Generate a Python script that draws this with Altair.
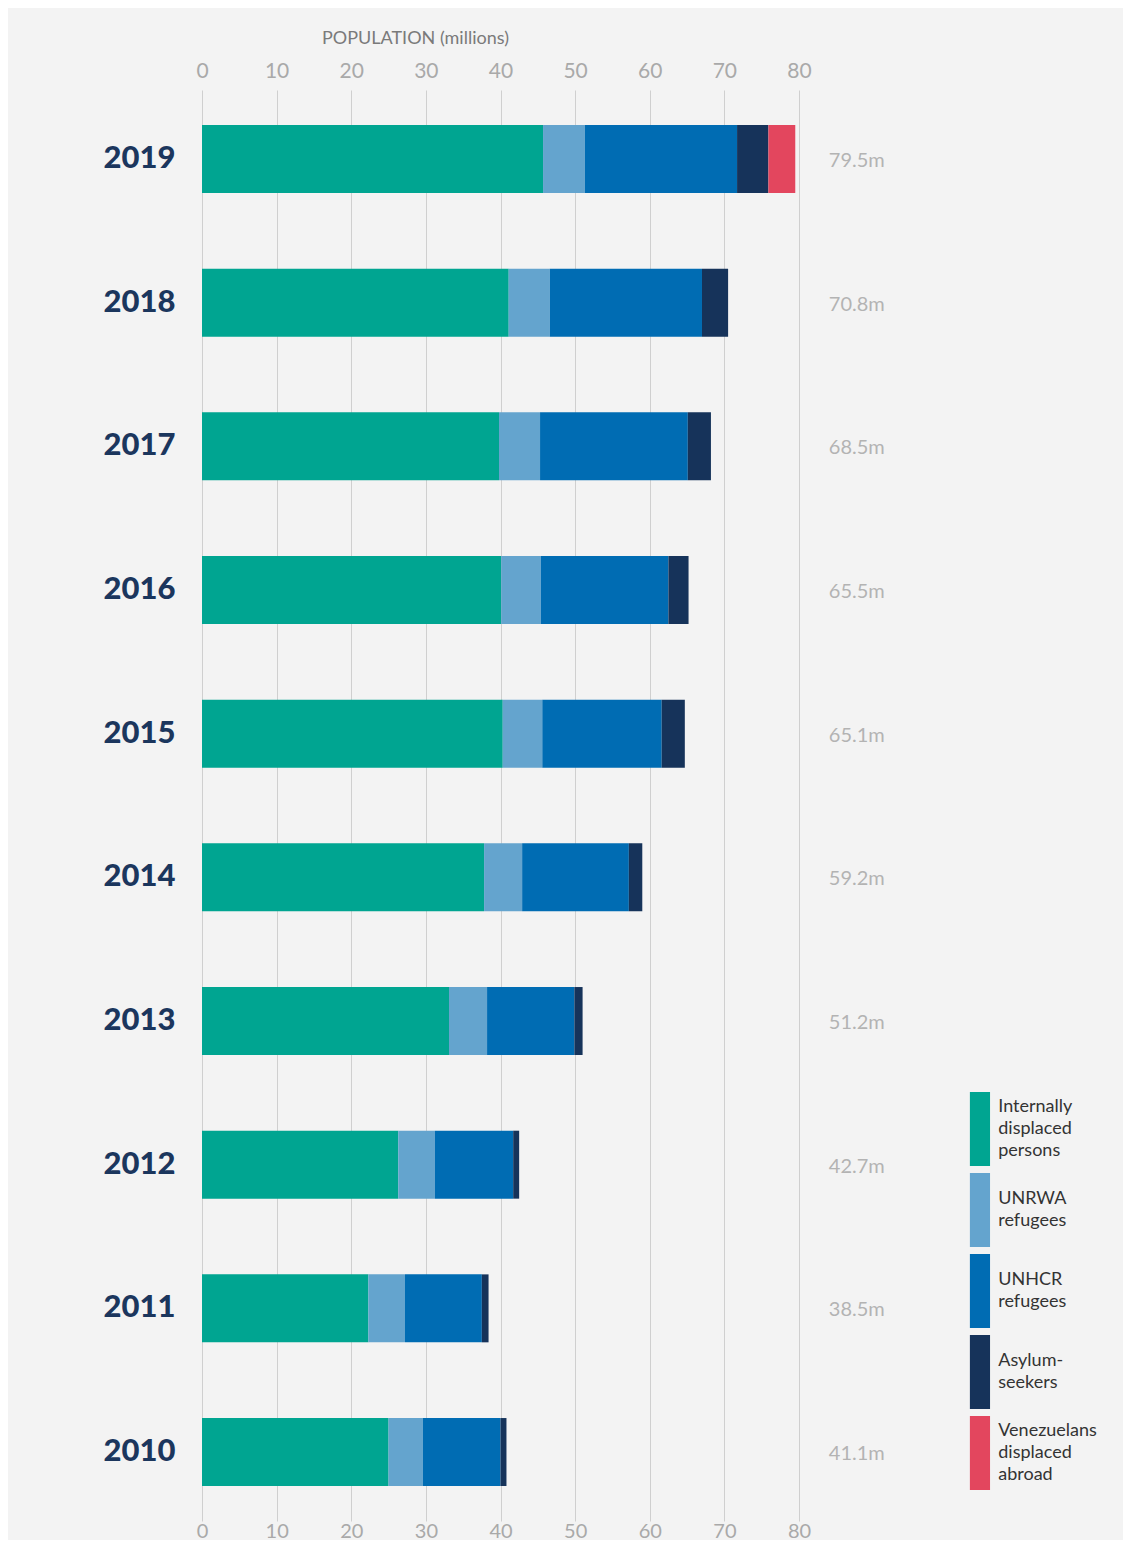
import altair as alt
import pandas as pd

years = ["2019", "2018", "2017", "2016", "2015", "2014", "2013", "2012", "2011", "2010"]
idp = [45.7, 41.1, 39.8, 40.1, 40.3, 37.8, 33.1, 26.3, 22.3, 25.0]
unrwa = [5.6, 5.5, 5.5, 5.3, 5.3, 5.1, 5.1, 4.9, 4.9, 4.6]
unhcr = [20.4, 20.4, 19.8, 17.1, 16.0, 14.3, 11.7, 10.5, 10.3, 10.4]
asylum = [4.2, 3.5, 3.1, 2.7, 3.1, 1.8, 1.1, 0.8, 0.9, 0.8]
venezuelans = [3.6, 0, 0, 0, 0, 0, 0, 0, 0, 0]
total_labels = ["79.5m", "70.8m", "68.5m", "65.5m", "65.1m", "59.2m", "51.2m", "42.7m", "38.5m", "41.1m"]

categories = [
    "Internally displaced persons",
    "UNRWA refugees",
    "UNHCR refugees",
    "Asylum-seekers",
    "Venezuelans displaced abroad",
]
legend_lines = [
    ["Internally", "displaced", "persons"],
    ["UNRWA", "refugees"],
    ["UNHCR", "refugees"],
    ["Asylum-", "seekers"],
    ["Venezuelans", "displaced", "abroad"],
]
colors = ["#00a591", "#64a4ce", "#006cb3", "#16335a", "#e3465e"]
x_ticks = [0, 10, 20, 30, 40, 50, 60, 70, 80]
axis_title = "POPULATION (millions)"

series = [idp, unrwa, unhcr, asylum, venezuelans]
rows = []
for i, yr in enumerate(years):
    for k, (cat, vals) in enumerate(zip(categories, series)):
        rows.append({"year": yr, "category": cat, "value": vals[i], "k": k})
df = pd.DataFrame(rows)
tot = pd.DataFrame({"year": years, "label": total_labels})
leg = pd.DataFrame({
    "category": categories,
    "lines": legend_lines,
    "n": [len(l) for l in legend_lines],
})

FONT = "Lato"
xscale = alt.Scale(domain=[0, 80], nice=False, zero=True)
yscale = alt.Scale(paddingInner=0.527, paddingOuter=0.2436)
color_scale = alt.Scale(domain=categories, range=colors)
legend_yscale = alt.Scale(domain=categories, range=[1002, 1400], paddingInner=0.0864, paddingOuter=0)

bars = alt.Chart(df).mark_bar().encode(
    x=alt.X(
        "value:Q",
        stack="zero",
        scale=xscale,
        title=None,
        axis=alt.Axis(
            orient="bottom", values=x_ticks, grid=True, gridColor="#cfcfcf", gridWidth=1,
            domain=False, ticks=False, tickSize=0, labelPadding=0, labelFlush=False,
            labelFont=FONT, labelFontSize=20, labelColor="#a9a9a9", title=None,
        ),
    ),
    y=alt.Y(
        "year:N",
        sort=years,
        scale=yscale,
        title=None,
        axis=alt.Axis(
            domain=False, ticks=False, tickSize=0, labelPadding=27,
            labelFont=FONT, labelFontSize=31, labelFontWeight=900, labelColor="#1b365d",
        ),
    ),
    color=alt.Color("category:N", scale=color_scale, legend=None),
    order=alt.Order("k:Q"),
)

totals = alt.Chart(tot).mark_text(
    align="left", baseline="middle", font=FONT, fontSize=20, color="#b3b3b3", dy=2
).encode(
    x=alt.X(
        datum=84,
        scale=xscale,
        axis=alt.Axis(
            orient="top", values=x_ticks, grid=False, domain=False, ticks=False, tickSize=0,
            labelPadding=9, labelFlush=False, labelFont=FONT, labelFontSize=21,
            labelColor="#a9a9a9",
            title=axis_title,
            titleFont=FONT, titleFontSize=18, titleFontWeight="normal", titleColor="#7a7a7a",
            titleX=213, titleY=-52, titleAlign="center", titleBaseline="middle",
        ),
    ),
    y=alt.Y("year:N", sort=years, scale=yscale),
    text="label:N",
)

main = alt.layer(bars, totals)

leg_rect = alt.Chart(leg).mark_rect().encode(
    x=alt.X(datum=102.9, scale=xscale, axis=None),
    x2=alt.X2(datum=105.6),
    y=alt.Y("category:N", scale=legend_yscale, axis=None, title=None),
    color=alt.Color("category:N", scale=color_scale, legend=None),
)


def leg_text(n, dy):
    return alt.Chart(leg).transform_filter(f"datum.n == {n}").mark_text(
        align="left", baseline="middle", font=FONT, fontSize=18, lineHeight=22,
        color="#333333", dy=dy,
    ).encode(
        x=alt.X(datum=106.7, scale=xscale, axis=None),
        y=alt.Y("category:N", scale=legend_yscale, axis=None, title=None),
        text="lines",
    )


legend = alt.layer(leg_rect, leg_text(3, -22), leg_text(2, -11))

chart = (
    alt.layer(main, legend)
    .resolve_scale(y="independent")
    .properties(
        width=597,
        height=1431,
        autosize=alt.AutoSizeParams(type="none"),
        padding={"left": 194, "top": 82, "right": 324, "bottom": 19},
        background="#f3f3f3",
    )
    .configure_view(stroke=None)
)

chart.save("out.html", embed_options={"renderer": "svg", "actions": False})
